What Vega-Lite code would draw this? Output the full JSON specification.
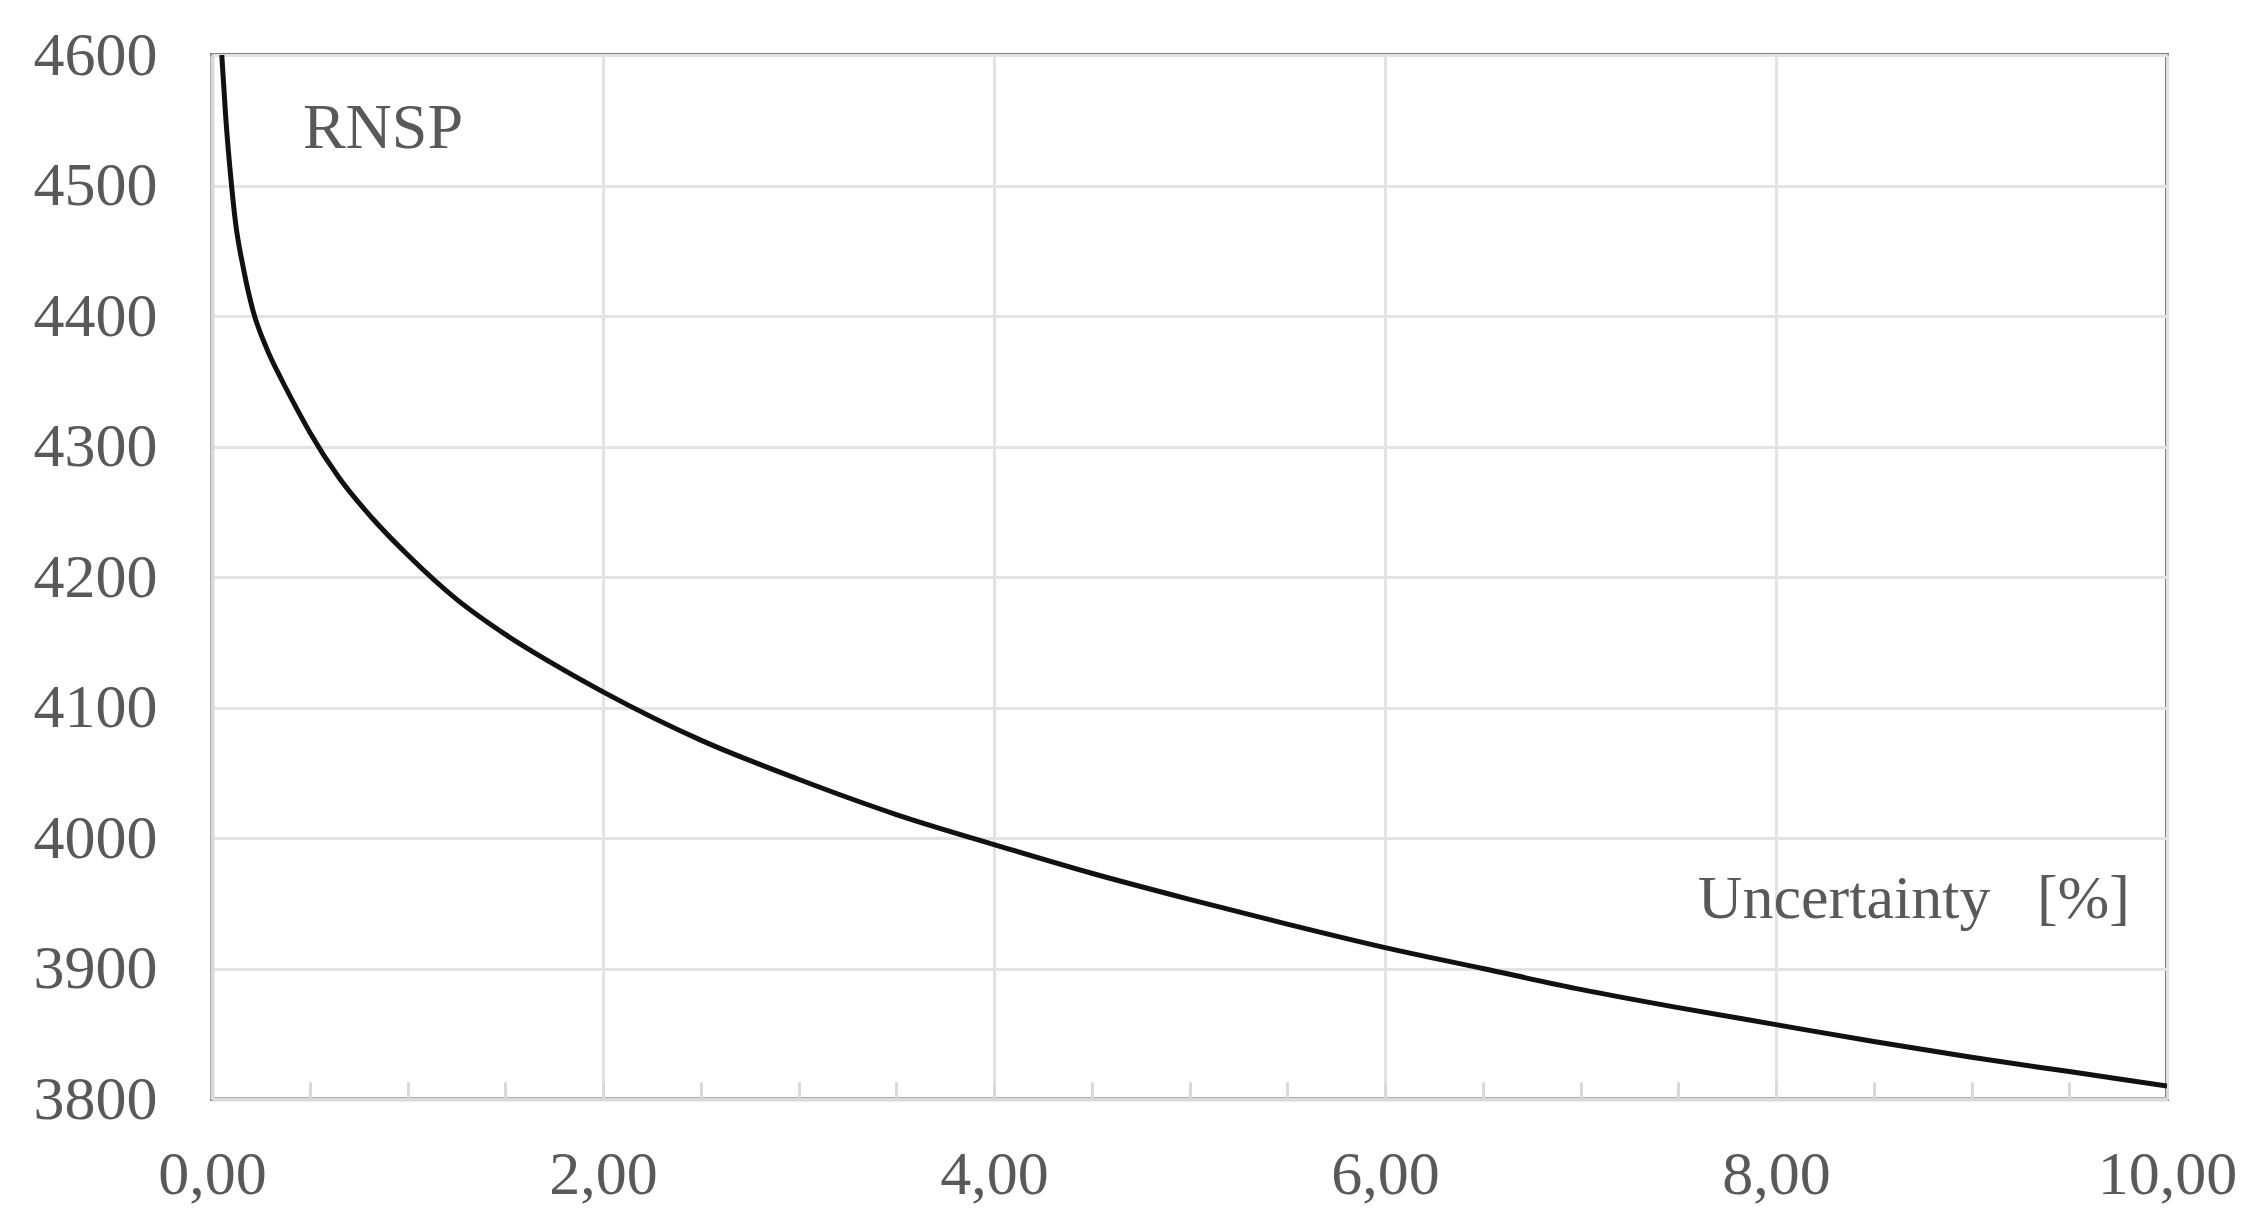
{
  "$schema": "https://vega.github.io/schema/vega-lite/v6.json",
  "width": 1955,
  "height": 1044,
  "autosize": "none",
  "padding": {"left": 212, "top": 55, "right": 94, "bottom": 128},
  "background": "white",
  "config": {
    "view": {"stroke": "#808080", "strokeWidth": 4},
    "font": "Liberation Serif"
  },
  "datasets": {
    "curve": [
      {"u": 0.05, "rnsp": 4600},
      {"u": 0.07, "rnsp": 4553},
      {"u": 0.10, "rnsp": 4500},
      {"u": 0.12, "rnsp": 4472},
      {"u": 0.16, "rnsp": 4437},
      {"u": 0.21, "rnsp": 4404},
      {"u": 0.28, "rnsp": 4375},
      {"u": 0.36, "rnsp": 4350},
      {"u": 0.43, "rnsp": 4330},
      {"u": 0.50, "rnsp": 4311},
      {"u": 0.65, "rnsp": 4276},
      {"u": 0.82, "rnsp": 4245},
      {"u": 1.00, "rnsp": 4217},
      {"u": 1.25, "rnsp": 4183},
      {"u": 1.50, "rnsp": 4156},
      {"u": 1.75, "rnsp": 4133},
      {"u": 2.00, "rnsp": 4112},
      {"u": 2.50, "rnsp": 4075},
      {"u": 3.00, "rnsp": 4045},
      {"u": 3.50, "rnsp": 4018},
      {"u": 4.00, "rnsp": 3995},
      {"u": 4.50, "rnsp": 3973},
      {"u": 5.00, "rnsp": 3953},
      {"u": 5.50, "rnsp": 3934},
      {"u": 6.00, "rnsp": 3916},
      {"u": 6.50, "rnsp": 3900},
      {"u": 7.00, "rnsp": 3884},
      {"u": 7.50, "rnsp": 3870},
      {"u": 8.00, "rnsp": 3857},
      {"u": 8.50, "rnsp": 3844},
      {"u": 9.00, "rnsp": 3832},
      {"u": 9.50, "rnsp": 3821},
      {"u": 10.00, "rnsp": 3810}
    ],
    "notes": [
      {"u": 0.465, "rnsp": 4529, "label": "RNSP", "side": "left"},
      {"u": 9.81, "rnsp": 3939, "label": "Uncertainty\u00a0\u00a0\u00a0[%]", "side": "right"}
    ]
  },
  "layer": [
    {
      "data": {"name": "curve"},
      "mark": {"type": "line", "color": "#111111", "strokeWidth": 5, "interpolate": "monotone", "clip": true},
      "encoding": {
        "x": {
          "field": "u", "type": "quantitative",
          "scale": {"domain": [0, 10], "nice": false, "zero": false},
          "axis": {
            "title": null,
            "values": [0, 0.5, 1, 1.5, 2, 2.5, 3, 3.5, 4, 4.5, 5, 5.5, 6, 6.5, 7, 7.5, 8, 8.5, 9, 9.5, 10],
            "labelExpr": "datum.value % 2 === 0 ? replace(format(datum.value, '.2f'), '.', ',') : ''",
            "labelFont": "Liberation Serif",
            "labelFontSize": 62,
            "labelColor": "#595959",
            "labelPadding": 62,
            "labelFlush": false,
            "labelOverlap": false,
            "tickSize": -17,
            "tickWidth": 3,
            "tickColor": "#d9d9d9",
            "domainColor": "#d9d9d9",
            "domainWidth": 4,
            "grid": true,
            "gridColor": "#e3e3e3",
            "gridWidth": 3,
            "gridOpacity": {"condition": {"test": "datum.value % 2 === 0", "value": 1}, "value": 0}
          }
        },
        "y": {
          "field": "rnsp", "type": "quantitative",
          "scale": {"domain": [3800, 4600], "nice": false, "zero": false},
          "axis": {
            "title": null,
            "values": [3800, 3900, 4000, 4100, 4200, 4300, 4400, 4500, 4600],
            "format": "d",
            "labelFont": "Liberation Serif",
            "labelFontSize": 62,
            "labelColor": "#595959",
            "labelPadding": 55,
            "ticks": false,
            "domainColor": "#d9d9d9",
            "domainWidth": 4,
            "grid": true,
            "gridColor": "#e3e3e3",
            "gridWidth": 3
          }
        }
      }
    },
    {
      "data": {"name": "notes"},
      "transform": [{"filter": "datum.side === 'left'"}],
      "mark": {"type": "text", "align": "left", "baseline": "alphabetic", "font": "Liberation Serif", "fontSize": 64, "color": "#595959"},
      "encoding": {
        "x": {"field": "u", "type": "quantitative"},
        "y": {"field": "rnsp", "type": "quantitative"},
        "text": {"field": "label"}
      }
    },
    {
      "data": {"name": "notes"},
      "transform": [{"filter": "datum.side === 'right'"}],
      "mark": {"type": "text", "align": "right", "baseline": "alphabetic", "font": "Liberation Serif", "fontSize": 62, "color": "#595959"},
      "encoding": {
        "x": {"field": "u", "type": "quantitative"},
        "y": {"field": "rnsp", "type": "quantitative"},
        "text": {"field": "label"}
      }
    }
  ]
}
